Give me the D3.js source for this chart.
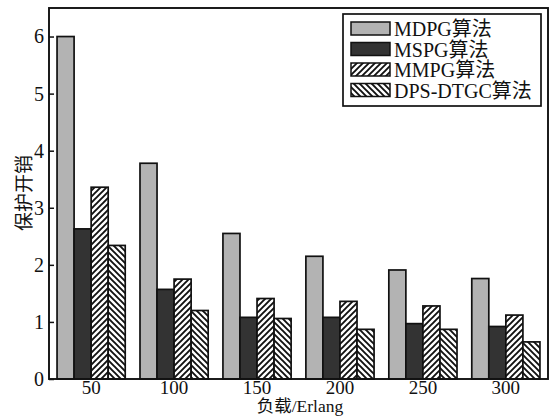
<!DOCTYPE html>
<html><head><meta charset="utf-8">
<script src="https://cdn.jsdelivr.net/npm/d3@7"></script>
<style>
body{margin:0;background:#fff;}
text{font-family:"Liberation Serif","Times New Roman","Noto Sans CJK SC",serif;fill:#111;}
</style></head>
<body><svg id="c" width="549" height="417"></svg>
<script>
const categories = ["50","100","150","200","250","300"];
const seriesNames = ["MDPG算法","MSPG算法","MMPG算法","DPS-DTGC算法"];
const MDPG = [6.0, 3.78, 2.55, 2.15, 1.91, 1.76];
const MSPG = [2.63, 1.57, 1.08, 1.08, 0.97, 0.92];
const MMPG = [3.36, 1.75, 1.41, 1.36, 1.28, 1.12];
const DPSDTGC = [2.34, 1.2, 1.06, 0.87, 0.87, 0.65];
const yTicks = [0,1,2,3,4,5,6];
const xTitle = "负载/Erlang";
const yTitle = "保护开销";

const series = [MDPG, MSPG, MMPG, DPSDTGC];
const fills = ["#b3b3b3", "#333333", "url(#pA)", "url(#pB)"];

const svg = d3.select("#c");
const defs = svg.append("defs");
function stripes(id, dir){
  const p = defs.append("pattern").attr("id", id).attr("patternUnits","userSpaceOnUse")
    .attr("width",6).attr("height",6);
  p.append("rect").attr("width",6).attr("height",6).attr("fill","#fff");
  const d = dir > 0 ? "M-1,1 l2,-2 M0,6 l6,-6 M5,7 l2,-2" : "M-1,5 l2,2 M0,0 l6,6 M5,-1 l2,2";
  p.append("path").attr("d", d).attr("stroke","#111").attr("stroke-width",1.9);
}
stripes("pA", 1);
stripes("pB", -1);

const L = 49, R = 548, T = 8, B = 379;
const x0 = d3.scaleBand().domain(categories).range([L, R]).paddingInner(0.178).paddingOuter(0.097);
const x1 = d3.scaleBand().domain(d3.range(4)).range([0, x0.bandwidth()]);
const y = d3.scaleLinear().domain([0, 6.5]).range([B, T]);

// bars
const g = svg.append("g");
categories.forEach((c, i) => {
  series.forEach((s, j) => {
    g.append("rect")
      .attr("x", x0(c) + x1(j))
      .attr("y", y(s[i]))
      .attr("width", x1.bandwidth())
      .attr("height", y(0) - y(s[i]))
      .attr("fill", fills[j])
      .attr("stroke", "#111").attr("stroke-width", 1.7);
  });
});

// frame
svg.append("rect").attr("x", L).attr("y", T).attr("width", R - L).attr("height", B - T)
  .attr("fill","none").attr("stroke","#111").attr("stroke-width",1.9);

// y axis
const ya = svg.append("g").attr("transform", `translate(${L},0)`)
  .call(d3.axisLeft(y).tickValues(yTicks).tickSizeInner(-5).tickSizeOuter(0).tickPadding(5).tickFormat(d3.format("d")));
ya.select(".domain").remove();
ya.selectAll("line").attr("stroke","#111").attr("stroke-width",1.5);
ya.selectAll("text").attr("font-size",20).style("font-family",'"Liberation Serif",serif').attr("fill","#111");

// x axis
const xa = svg.append("g").attr("transform", `translate(0,${B})`)
  .call(d3.axisBottom(x0).tickSize(0));
xa.select(".domain").remove();
xa.selectAll("text").attr("font-size",19).attr("y",14.5).attr("dy",null)
  .style("font-family",'"Liberation Serif",serif').attr("fill","#111");

// titles
svg.append("text").attr("x", 300).attr("y", 411.5).attr("text-anchor","middle")
  .attr("font-size",17.5).text(xTitle);
svg.append("text").attr("transform","translate(31,193) rotate(-90)").attr("text-anchor","middle")
  .attr("font-size",19).text(yTitle);

// legend
const lg = svg.append("g");
lg.append("rect").attr("x",343).attr("y",14).attr("width",198).attr("height",92)
  .attr("fill","#fff").attr("stroke","#111").attr("stroke-width",1.7);
seriesNames.forEach((n, j) => {
  const yy = 22 + j * 20.5;
  lg.append("rect").attr("x",351).attr("y",yy).attr("width",39).attr("height",13)
    .attr("fill", fills[j]).attr("stroke","#111").attr("stroke-width",1.5);
  lg.append("text").attr("x",394).attr("y",yy + 14).attr("font-size",20).text(n);
});
</script></body></html>
